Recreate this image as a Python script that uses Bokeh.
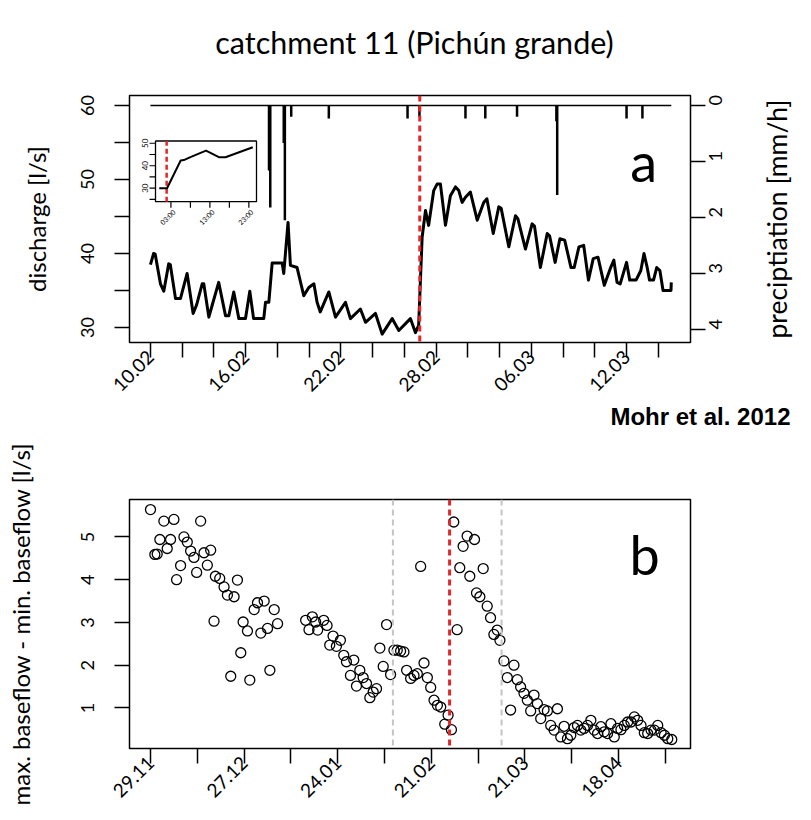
import math
from datetime import datetime, timedelta
from bokeh.plotting import figure
from bokeh.models import Range1d, LinearAxis, FixedTicker, Span, Label
from bokeh.layouts import column, row
from bokeh.embed import file_html
from bokeh.resources import INLINE

FONT = "Lato"

# ---------------- data: panel a (days since 10.02.2010) ----------------
start_a = datetime(2010, 2, 10)
q_day = [0.00, 0.20, 0.30, 0.63, 0.84, 1.15, 1.25, 1.58, 1.89, 2.31, 2.69, 2.90, 3.26, 3.36,
         3.68, 3.89, 4.30, 4.73, 4.94, 5.25, 5.57, 5.99, 6.26, 6.50, 7.14, 7.25, 7.46, 7.67,
         8.30, 8.40, 8.67, 8.82, 9.24, 9.66, 9.98, 10.30, 10.50, 10.70, 11.24, 11.66, 12.29,
         12.60, 13.23, 13.55, 14.18, 14.60, 15.23, 15.65, 16.38, 16.70, 16.90, 17.12, 17.33,
         17.53, 17.85, 18.07, 18.27, 18.59, 18.90, 19.22, 19.43, 19.64, 19.85, 20.16, 20.59,
         21.00, 21.20, 21.60, 21.95, 22.10, 22.58, 23.00, 23.15, 23.63, 24.05, 24.20, 24.57,
         25.00, 25.15, 25.50, 25.80, 26.10, 26.50, 26.70, 27.00, 27.30, 27.60, 27.90, 28.20,
         28.60, 29.00, 29.20, 29.40, 29.60, 30.00, 30.20, 30.60, 30.90, 31.10, 31.30, 31.45,
         31.70, 31.90, 32.10, 32.30, 32.80, 32.82]
q_val = [38.5, 40.0, 39.9, 35.9, 34.9, 38.6, 38.5, 33.9, 33.9, 37.3, 31.9, 33.0, 35.9, 35.9,
         31.4, 33.0, 36.1, 31.6, 31.6, 34.8, 31.2, 31.2, 34.9, 31.2, 31.2, 33.4, 33.4, 38.7,
         38.7, 37.3, 44.2, 38.4, 38.1, 34.3, 35.4, 35.9, 33.4, 32.1, 34.8, 31.4, 33.4,
         31.2, 32.5, 30.7, 31.9, 29.1, 31.2, 29.6, 31.2, 29.3, 30.3, 42.2, 45.8,
         43.8, 48.5, 49.4, 49.4, 43.8, 47.8, 49.0, 48.5, 46.9, 47.6, 48.3, 44.5,
         46.9, 47.4, 42.7, 46.3, 46.1, 40.9, 45.1, 44.7, 40.6, 44.0, 43.7, 38.1,
         42.7, 42.4, 38.8, 42.0, 41.8, 38.1, 38.1, 40.9, 41.1, 36.4, 39.3, 39.5,
         35.7, 38.1, 39.1, 36.1, 35.9, 38.8, 36.4, 36.4, 37.7, 40.0, 38.1, 36.4,
         36.4, 38.1, 37.7, 35.0, 35.0, 36.1]
precip_day = [7.47, 7.55, 8.40, 8.47, 8.87, 11.24, 16.20, 16.95, 19.85, 21.10, 23.10,
              25.58, 25.63, 30.00, 31.00]
precip_val = [1.16, 1.82, 0.67, 2.05, 0.20, 0.23, 0.23, 0.20, 0.23, 0.23, 0.20,
              0.28, 1.60, 0.23, 0.23]
quake_day_a = 16.97

# inset (hours)
inset_hour = [0, 2, 5.5, 6.3, 8, 12, 15.3, 17, 24]
inset_q = [30, 30, 42.3, 42.5, 43.8, 46.7, 43.8, 43.8, 48.2]
inset_quake_hour = 1.9
inset_xticks = [3, 8, 13, 18, 23]
inset_xlabels = ["03:00", "", "13:00", "", "23:00"]
inset_yticks = [25, 30, 35, 40, 45, 50]
inset_ylabels = ["", "30", "", "40", "", "50"]
inset_ylim = (25, 50)

# ---------------- data: panel b (days since 29.11.2009) ----------------
start_b = datetime(2009, 11, 29)
b_day = [0, 1.3, 2.0, 2.8, 4.0, 5.0, 6.0, 7.0, 7.8, 9.0, 10.0, 11.0, 12.0, 13.0, 13.8, 15.0,
         16.0, 17.0, 18.0, 19.0, 19.4, 20.7, 22.0, 23.0, 24.0, 25.0, 26.0, 27.0, 27.7, 29.0,
         29.7, 31.0, 32.0, 33.0, 34.0, 35.0, 35.7, 37.0, 38.0, 46.4, 47.4, 48.4, 49.4, 50.0,
         51.8, 52.8, 53.6, 54.6, 55.6, 56.8, 57.8, 58.6, 59.8, 60.8, 61.6, 62.6, 63.6, 64.6,
         65.6, 66.6, 67.6, 68.6, 69.6, 70.6, 71.8, 72.8, 73.8, 74.8, 75.8, 76.6, 77.8, 78.8,
         79.8, 80.8, 81.8, 82.8, 83.8, 84.8, 85.8, 86.8, 88.0, 89.0, 90.0, 90.7, 91.7, 92.5,
         93.5, 94.7, 95.5, 96.9, 97.5, 98.5, 99.5, 100.7, 101.7, 102.7, 103.7, 104.5, 105.7,
         106.7, 107.7, 108.7, 109.7, 110.7, 111.7, 112.7, 113.7, 114.7, 115.7, 116.7, 117.7,
         118.7, 119.7, 120.7, 121.7, 122.7, 123.7, 124.7, 125.7, 126.7, 127.7, 128.7, 129.7,
         130.7, 131.7, 132.7, 133.7, 134.7, 135.7, 136.7, 137.7, 138.7, 139.7, 140.7, 141.7,
         142.7, 143.7, 144.7, 145.7, 146.7, 147.7, 148.7, 149.7, 150.7, 151.7, 152.7, 153.7,
         154.7, 155.9]
b_val = [5.64, 4.59, 4.60, 4.94, 5.37, 4.73, 4.94, 5.41, 4.00, 4.33, 5.00, 4.88, 4.67, 4.52,
         4.17, 5.37, 4.63, 4.34, 4.69, 3.03, 4.08, 4.03, 3.83, 3.64, 1.74, 3.60, 3.99, 2.29,
         3.01, 2.80, 1.65, 3.30, 3.46, 2.75, 3.50, 2.86, 1.88, 3.30, 2.97, 3.05, 2.83, 3.13,
         3.01, 2.82, 3.05, 2.93, 2.47, 2.68, 2.44, 2.58, 2.23, 2.08, 1.76, 2.12, 1.51, 1.88,
         1.71, 1.57, 1.24, 1.37, 1.45, 2.40, 1.97, 2.95, 1.78, 2.35, 2.35, 2.33, 2.31, 1.88,
         1.69, 1.76, 1.80, 4.31, 2.05, 1.71, 1.48, 1.18, 1.06, 1.02, 0.62, 0.83, 0.49, 5.35,
         2.83, 4.28, 4.78, 5.02, 4.08, 4.94, 3.69, 3.60, 4.26, 3.38, 3.11, 2.72, 2.82, 2.58,
         2.10, 1.71, 0.95, 2.00, 1.66, 1.49, 1.34, 1.18, 0.93, 1.30, 1.10, 0.75, 0.96, 0.93,
         0.59, 0.48, 0.98, 0.32, 0.57, 0.28, 0.36, 0.54, 0.59, 0.48, 0.52, 0.59, 0.71, 0.48,
         0.40, 0.56, 0.44, 0.40, 0.63, 0.32, 0.52, 0.49, 0.59, 0.67, 0.67, 0.79, 0.71, 0.59,
         0.42, 0.40, 0.48, 0.48, 0.59, 0.42, 0.36, 0.28, 0.26]
quake_day_b = 89.45
window_b = [72.5, 105.0]

TITLE = "catchment 11 (Pichún grande)"
SOURCE = "Mohr et al. 2012"
RED = "#e3262b"


def style_axis(ax, label_standoff, axis_standoff, label_size="18px", axis_size="24px"):
    ax.axis_line_color = None
    ax.major_tick_out = 15
    ax.major_tick_in = 0
    ax.minor_tick_out = 0
    ax.minor_tick_in = 0
    ax.major_tick_line_width = 1.5
    ax.major_tick_line_color = "black"
    ax.major_label_text_font = FONT
    ax.major_label_text_font_size = label_size
    ax.major_label_text_color = "black"
    ax.major_label_standoff = label_standoff
    ax.axis_label_text_font = FONT
    ax.axis_label_text_font_size = axis_size
    ax.axis_label_text_font_style = "normal"
    ax.axis_label_text_color = "black"
    ax.axis_label_standoff = axis_standoff


def date_ticks(start, last, step, label_every):
    ticks = list(range(0, last + 1, step))
    over = {}
    for t in ticks:
        over[t] = (start + timedelta(days=t)).strftime("%d.%m") if t % label_every == 0 else ""
    return ticks, over


def strip(width, height, x0, x1, y0, y1, left=0, right=0, top=0, bottom=0):
    # text strip; its frame spans page pixels x0..x1, y0..y1 (data = page pixels)
    s = figure(width=width, height=height, x_range=Range1d(x0, x1), y_range=Range1d(y1, y0),
               output_backend="svg", toolbar_location=None, x_axis_location=None,
               y_axis_location=None, min_border_left=left, min_border_right=right,
               min_border_top=top, min_border_bottom=bottom,
               background_fill_color="white", border_fill_color="white")
    s.grid.visible = False
    s.outline_line_color = None
    return s


# ---------------- layout geometry (page pixels) ----------------
TOP_H = 62
PA_W = 745
FA = (129, 690, 95, 342)          # panel a frame: left, right, top, bottom
FB_LR = (129, 690)                # panel b frame left/right
INS = (155, 256, 140.5, 201.2)    # inset frame

xstand = 0
probe = LinearAxis()
try:
    probe.major_label_standoff = -4
    xstand = -4
except Exception:
    xstand = 0
A_BOTTOM = FA[3] + 64 + xstand
M_BOTTOM = A_BOTTOM + 32

# ---------------- title strip ----------------
pt = strip(811, TOP_H, FB_LR[0], FB_LR[1], 0, TOP_H, left=FB_LR[0], right=811 - FB_LR[1])
pt.add_layout(Label(x=414, y=41.2, text=TITLE, text_font=FONT, text_font_size="30.5px",
                    text_align="center", text_baseline="middle", text_color="black"))

# ---------------- panel a ----------------
pa = figure(width=PA_W, height=A_BOTTOM - TOP_H, x_range=Range1d(-1.32, 34.03),
            y_range=Range1d(27.97, 61.35), output_backend="svg", toolbar_location=None,
            min_border_left=FA[0], min_border_right=PA_W - FA[1], min_border_top=FA[2] - TOP_H,
            min_border_bottom=A_BOTTOM - FA[3],
            background_fill_color="white", border_fill_color="white")
pa.grid.visible = False
pa.outline_line_color = "black"
pa.outline_line_width = 1.5
pa.outline_line_alpha = 1.0

ix_lo = min(inset_hour) - 0.04 * (max(inset_hour) - min(inset_hour))
ix_hi = max(inset_hour) + 0.04 * (max(inset_hour) - min(inset_hour))
iy_lo = inset_ylim[0] - 0.04 * (inset_ylim[1] - inset_ylim[0])
iy_hi = inset_ylim[1] + 0.04 * (inset_ylim[1] - inset_ylim[0])
kx = (INS[1] - INS[0]) / (ix_hi - ix_lo)
ky = (INS[3] - INS[2]) / (iy_hi - iy_lo)
pa.extra_x_ranges = {"ix": Range1d(ix_lo - (INS[0] - FA[0]) / kx, ix_hi + (FA[1] - INS[1]) / kx)}
pa.extra_y_ranges = {"precip": Range1d(4.232, -0.179),
                     "iy": Range1d(iy_lo - (FA[3] - INS[3]) / ky, iy_hi + (INS[2] - FA[2]) / ky)}

xt, xo = date_ticks(start_a, 32, 2, 6)
pa.xaxis.ticker = FixedTicker(ticks=xt, minor_ticks=[])
pa.xaxis.major_label_overrides = xo
pa.xaxis.major_label_orientation = math.pi / 4
pa.yaxis.ticker = FixedTicker(ticks=[30, 35, 40, 45, 50, 55, 60], minor_ticks=[])
pa.yaxis.major_label_overrides = {35: "", 45: "", 55: ""}
pa.yaxis.major_label_orientation = "parallel"
pa.yaxis.axis_label = "discharge [l/s]"
style_axis(pa.xaxis[0], xstand, 0, label_size="19px")
style_axis(pa.yaxis[0], 20, 28)

ra = LinearAxis(y_range_name="precip", ticker=FixedTicker(ticks=[0, 1, 2, 3, 4], minor_ticks=[]))
ra.major_label_orientation = math.pi / 2
style_axis(ra, 10, 0)
pa.add_layout(ra, "right")

# precipitation (hanging bars from top)
pa.segment(x0=[q_day[0]], y0=[0], x1=[q_day[-1]], y1=[0], y_range_name="precip",
           line_color="black", line_width=1.5)
pa.segment(x0=precip_day, y0=[0] * len(precip_day), x1=precip_day, y1=precip_val,
           y_range_name="precip", line_color="black", line_width=2.5)

# discharge
pa.line(q_day, q_val, line_color="black", line_width=3, line_join="round")
pa.add_layout(Span(location=quake_day_a, dimension="height", line_color=RED, line_width=3,
                   line_dash="6 4"))

# inset
pa.quad(left=[ix_lo], right=[ix_hi], bottom=[iy_lo], top=[iy_hi], fill_color="white",
        line_color="black", line_width=1.3, x_range_name="ix", y_range_name="iy")
pa.segment(x0=[inset_quake_hour], y0=[iy_lo], x1=[inset_quake_hour], y1=[iy_hi],
           line_color=RED, line_width=2.5, line_dash="5 3", x_range_name="ix", y_range_name="iy")
pa.line(inset_hour, inset_q, line_color="black", line_width=2, line_join="round",
        x_range_name="ix", y_range_name="iy")
pa.ray(x=inset_xticks, y=[iy_lo] * len(inset_xticks), length=6, length_units="screen",
       angle=-math.pi / 2, line_color="black", line_width=1.2, x_range_name="ix", y_range_name="iy")
pa.ray(x=[ix_lo] * len(inset_yticks), y=inset_yticks, length=6, length_units="screen",
       angle=math.pi, line_color="black", line_width=1.2, x_range_name="ix", y_range_name="iy")
pa.text(x=inset_xticks, y=[iy_lo] * len(inset_xticks), text=inset_xlabels, angle=math.pi / 4,
        x_offset=3, y_offset=9, text_align="right", text_baseline="middle",
        text_font_size="7px", text_font={"value": FONT}, x_range_name="ix", y_range_name="iy")
pa.text(x=[ix_lo] * len(inset_yticks), y=inset_yticks, text=inset_ylabels, angle=math.pi / 2,
        x_offset=-8, text_align="center", text_baseline="bottom",
        text_font_size="8px", text_font={"value": FONT}, x_range_name="ix", y_range_name="iy")

pa.add_layout(Label(x=31.08, y=52.42, text="a", text_font=FONT, text_font_size="54px",
                    text_align="center", text_baseline="middle", text_color="black"))

# right strip holding the precipitation axis title (frame = panel a frame rows)
pr = strip(811 - PA_W, A_BOTTOM - TOP_H, PA_W, 811, FA[2], FA[3],
           top=FA[2] - TOP_H, bottom=A_BOTTOM - FA[3])
pr.add_layout(Label(x=776.6, y=(FA[2] + FA[3]) / 2, text="preciptiation [mm/h]", angle=math.pi / 2,
                    text_font=FONT, text_font_size="26.5px", text_align="center",
                    text_baseline="middle", text_color="black"))

# source strip between the panels (text drawn as the strip's title)
pm = strip(811, M_BOTTOM - A_BOTTOM, FB_LR[0], FB_LR[1], 0, 1, left=FB_LR[0],
           right=811 - FB_LR[1])
pm.title.text = SOURCE
pm.title.align = "right"
pm.title.offset = -100
pm.title.standoff = 0
pm.title.vertical_align = "top"
pm.title.text_font = "Liberation Sans"
pm.title.text_font_style = "bold"
pm.title.text_font_size = "24px"
pm.title.text_color = "black"

# ---------------- panel b ----------------
pb = figure(width=811, height=820 - M_BOTTOM, x_range=Range1d(-6.28, 161.5),
            y_range=Range1d(0.05, 5.876), output_backend="svg", toolbar_location=None,
            min_border_left=FB_LR[0], min_border_right=811 - FB_LR[1],
            min_border_top=499 - M_BOTTOM, min_border_bottom=72,
            background_fill_color="white", border_fill_color="white")
pb.grid.visible = False
pb.outline_line_color = "black"
pb.outline_line_width = 1.5
pb.outline_line_alpha = 1.0

xt, xo = date_ticks(start_b, 154, 14, 28)
pb.xaxis.ticker = FixedTicker(ticks=xt, minor_ticks=[])
pb.xaxis.major_label_overrides = xo
pb.xaxis.major_label_orientation = math.pi / 4
pb.yaxis.ticker = FixedTicker(ticks=[1, 2, 3, 4, 5], minor_ticks=[])
pb.yaxis.major_label_orientation = "parallel"
pb.yaxis.axis_label = "max. baseflow - min. baseflow [l/s]"
style_axis(pb.xaxis[0], xstand, 0, label_size="19px")
style_axis(pb.yaxis[0], 20, 44)

for w in window_b:
    pb.add_layout(Span(location=w, dimension="height", line_color="#c4c4c4", line_width=2,
                       line_dash="6 4"))
pb.add_layout(Span(location=quake_day_b, dimension="height", line_color=RED, line_width=3,
                   line_dash="6 4"))
pb.scatter(b_day, b_val, marker="circle", size=10, fill_color=None, line_color="black",
           line_width=1.3)
pb.add_layout(Label(x=147.8, y=4.593, text="b", text_font=FONT, text_font_size="54px",
                    text_align="center", text_baseline="middle", text_color="black"))

layout = column(pt, row(pa, pr), pm, pb)
open("out.html", "w").write(file_html(layout, INLINE))
